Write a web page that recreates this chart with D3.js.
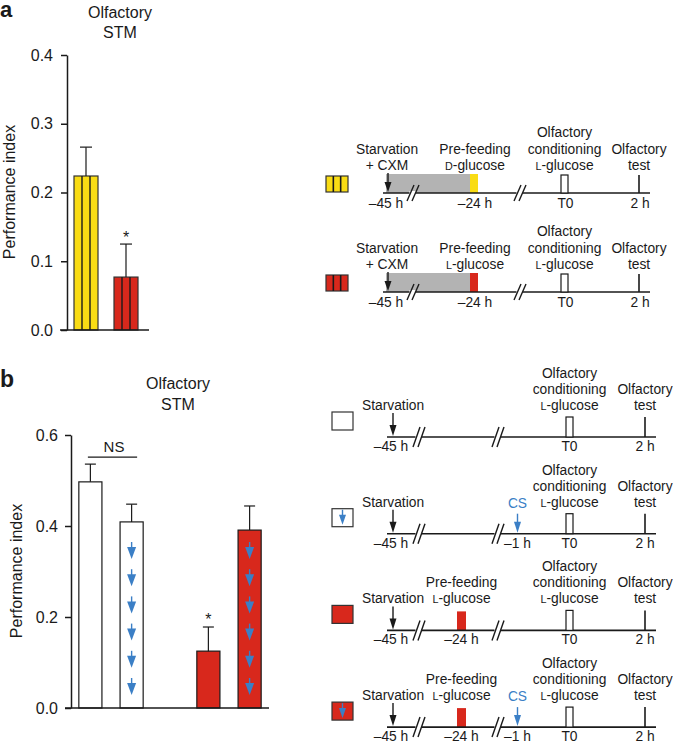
<!DOCTYPE html>
<html lang="en">
<head>
<meta charset="UTF-8">
<script src="https://d3js.org/d3.v7.min.js"></script>
<title>Olfactory STM</title>
<style>
  body { margin: 0; background: #fff; }
  svg text { font-family: "Liberation Sans", Arial, Helvetica, sans-serif; fill: #1a1a1a; }
</style>
</head>
<body>
<svg id="fig" width="673" height="743"></svg>
<script>
// ---------- data ----------
// panel a
const aGroups = ["D-glucose", "L-glucose"];
const aMeans = [0.224, 0.077];
const aErrTop = [0.266, 0.125];
const aSig = [false, true];
const aTicks = [0, 0.1, 0.2, 0.3, 0.4];

// panel b (groups x conditions)
const bGroups = ["noPrefeed", "prefeed"];
const bConds = ["noCS", "CS"];
const bMeans = [0.497, 0.409, 0.125, 0.391];
const bErrTop = [0.536, 0.448, 0.178, 0.444];
const bSig = [false, false, true, false];
const bTicks = [0, 0.2, 0.4, 0.6];

// timelines
const aTimes = [-45, -24, 0, 2];
const aTimeLabels = ["–45 h", "–24 h", "T0", "2 h"];
const aProtocols = ["D", "L"];
const bTimes = [-45, -24, -1, 0, 2];
const bTimeLabels = ["–45 h", "–24 h", "–1 h", "T0", "2 h"];
const bPrefeed = [false, false, true, true];
const bCS = [false, true, false, true];

// ---------- style ----------
const YEL = "#f9dc14", RED = "#d8281c", BLUE = "#3b7fc6", GREY = "#b3b3b3", INK = "#1a1a1a";

const svg = d3.select("#fig");

function arrow(g, x, yTop, yTip, color, headLen, headW) {
    g.append("line").attr("x1", x).attr("x2", x).attr("y1", yTop).attr("y2", yTip - headLen + 1)
        .attr("stroke", color).attr("stroke-width", 1.4);
    g.append("path")
        .attr("d", `M${x - headW / 2},${yTip - headLen}L${x + headW / 2},${yTip - headLen}L${x},${yTip}Z`)
        .attr("fill", color);
}

function brk(g, x, B, h) {
    // white gap + two slanted strokes
    g.append("path")
        .attr("d", `M${x - 2.5 - 1},${B - 2}L${x + 2.5 + 1},${B - 2}L${x + 2.5 - 1},${B + 2}L${x - 2.5 - 1},${B + 2}Z`)
        .attr("fill", "#fff");
    [-2.5, 2.5].forEach(o => {
        g.append("line")
            .attr("x1", x + o - 3.5).attr("y1", B + h)
            .attr("x2", x + o + 3.5).attr("y2", B - h)
            .attr("stroke", INK).attr("stroke-width", 1.4);
    });
}

function label(g, x, y, txt, opts = {}) {
    const t = g.append("text").attr("x", x).attr("y", y)
        .attr("text-anchor", opts.anchor || "middle")
        .attr("font-size", opts.size || 13.8);
    if (opts.color) t.style("fill", opts.color);
    if (opts.sc) {
        t.append("tspan").attr("font-size", (opts.size || 13.8) * 0.78).text(opts.sc);
        t.append("tspan").text(txt);
    } else t.text(txt);
    return t;
}

// ---------- panel letters ----------
svg.append("text").attr("x", 0).attr("y", 16.5).attr("font-size", 22).attr("font-weight", "bold").text("a");
svg.append("text").attr("x", 0).attr("y", 387).attr("font-size", 23).attr("font-weight", "bold").text("b");

// ---------- panel a bar chart ----------
{
    const g = svg.append("g");
    const y = d3.scaleLinear().domain([0, 0.4]).range([330, 55]);
    const x = d3.scaleBand().domain(aGroups).range([67, 145]).paddingInner(0.4).paddingOuter(0.175);
    const cols = [YEL, RED];

    label(g, 120, 18, "Olfactory", { size: 16 });
    label(g, 120, 38, "STM", { size: 16 });

    g.append("text").attr("transform", `translate(15,192) rotate(-90)`)
        .attr("text-anchor", "middle").attr("font-size", 16).text("Performance index");

    aGroups.forEach((k, i) => {
        const x0 = x(k), w = x.bandwidth(), top = y(aMeans[i]);
        g.append("rect").attr("x", x0).attr("y", top).attr("width", w).attr("height", y(0) - top)
            .attr("fill", cols[i]).attr("stroke", "#333").attr("stroke-width", 1.2);
        [1 / 3, 2 / 3].forEach(f => g.append("line")
            .attr("x1", x0 + w * f).attr("x2", x0 + w * f).attr("y1", top).attr("y2", y(0))
            .attr("stroke", INK).attr("stroke-width", 1.4));
        const cx = x0 + w / 2;
        g.append("line").attr("x1", cx).attr("x2", cx).attr("y1", top).attr("y2", y(aErrTop[i]))
            .attr("stroke", INK).attr("stroke-width", 1.2);
        g.append("line").attr("x1", cx - 6).attr("x2", cx + 6).attr("y1", y(aErrTop[i])).attr("y2", y(aErrTop[i]))
            .attr("stroke", INK).attr("stroke-width", 1.2);
        if (aSig[i]) label(g, cx, y(aErrTop[i]) - 1.5, "*", { size: 16 });
    });

    const ax = g.append("g").attr("transform", "translate(67,0)")
        .call(d3.axisLeft(y).tickValues(aTicks).tickFormat(d3.format(".1f")).tickSize(6).tickSizeOuter(0).tickPadding(8));
    ax.attr("font-size", 16);
    ax.selectAll("path,line").attr("stroke", INK).attr("stroke-width", 1.5);
    g.append("line").attr("x1", 60).attr("x2", 149).attr("y1", y(0)).attr("y2", y(0))
        .attr("stroke", INK).attr("stroke-width", 1.5);
}

// ---------- panel b bar chart ----------
{
    const g = svg.append("g");
    const y = d3.scaleLinear().domain([0, 0.6]).range([708, 435]);
    const xo = d3.scaleBand().domain(bGroups).range([71, 307]);
    const xi = d3.scaleBand().domain(bConds).range([0, 80]).paddingInner(0.44).paddingOuter(0.19);
    const w = xi.bandwidth();

    label(g, 178, 389, "Olfactory", { size: 16 });
    label(g, 178, 410, "STM", { size: 16 });

    g.append("text").attr("transform", `translate(21.5,571) rotate(-90)`)
        .attr("text-anchor", "middle").attr("font-size", 16).text("Performance index");

    const centers = [];
    bGroups.forEach((gk, gi) => bConds.forEach((ck, ci) => {
        const i = gi * 2 + ci;
        const x0 = xo(gk) + xi(ck), top = y(bMeans[i]);
        const cx = x0 + w / 2;
        centers.push(cx);
        g.append("rect").attr("x", x0).attr("y", top).attr("width", w).attr("height", y(0) - top)
            .attr("fill", gi ? RED : "#fff").attr("stroke", INK).attr("stroke-width", 1.2);
        if (ck === "CS") {
            const n = Math.floor((y(0) - top - 10) / 27.2);
            for (let k = 0; k < n; k++) {
                const tip = y(0) - 13 - k * 27.2;
                arrow(g, cx, tip - 17, tip, BLUE, 12, 9);
            }
        }
        g.append("line").attr("x1", cx).attr("x2", cx).attr("y1", top).attr("y2", y(bErrTop[i]))
            .attr("stroke", INK).attr("stroke-width", 1.2);
        g.append("line").attr("x1", cx - 5.5).attr("x2", cx + 5.5).attr("y1", y(bErrTop[i])).attr("y2", y(bErrTop[i]))
            .attr("stroke", INK).attr("stroke-width", 1.2);
        if (bSig[i]) label(g, cx, y(bErrTop[i]) - 2.5, "*", { size: 16 });
    }));

    // NS bracket over the first two bars
    const nsY = y(bErrTop[0]) - 7;
    g.append("line").attr("x1", centers[0] - 2.5).attr("x2", centers[1] + 5.5).attr("y1", nsY).attr("y2", nsY)
        .attr("stroke", INK).attr("stroke-width", 1.2);
    label(g, (centers[0] + centers[1]) / 2 + 3, nsY - 5, "NS", { size: 15 });

    const ax = g.append("g").attr("transform", "translate(71,0)")
        .call(d3.axisLeft(y).tickValues(bTicks).tickFormat(d3.format(".1f")).tickSize(6).tickSizeOuter(0).tickPadding(7));
    ax.attr("font-size", 16);
    ax.selectAll("path,line").attr("stroke", INK).attr("stroke-width", 1.5);
    g.append("line").attr("x1", 65).attr("x2", 269).attr("y1", y(0)).attr("y2", y(0))
        .attr("stroke", INK).attr("stroke-width", 1.5);
}

// ---------- panel a timelines ----------
{
    const t = d3.scaleLinear().domain(aTimes).range([387, 474, 564.5, 639]);
    const cols = { D: YEL, L: RED };
    aProtocols.forEach((s, i) => {
        const g = svg.append("g");
        const B = 193 + i * 99;
        // legend swatch
        g.append("rect").attr("x", 326).attr("y", B - 17).attr("width", 22).attr("height", 16)
            .attr("fill", cols[s]).attr("stroke", "#333").attr("stroke-width", 1.2);
        [1 / 3, 2 / 3].forEach(f => g.append("line")
            .attr("x1", 326 + 22 * f).attr("x2", 326 + 22 * f).attr("y1", B - 17).attr("y2", B - 1)
            .attr("stroke", INK).attr("stroke-width", 1.6));

        g.append("rect").attr("x", t(-45) - 1).attr("y", B - 19).attr("width", t(-24) - 4 - t(-45) + 1).attr("height", 19)
            .attr("fill", GREY);
        g.append("rect").attr("x", t(-24) - 4).attr("y", B - 19).attr("width", 8).attr("height", 19)
            .attr("fill", cols[s]);
        g.append("line").attr("x1", 383).attr("x2", 650).attr("y1", B).attr("y2", B)
            .attr("stroke", INK).attr("stroke-width", 1.6);
        brk(g, 413, B, 8);
        brk(g, 520, B, 8);
        arrow(g, t(-45) + 1, B - 20, B - 1, INK, 10, 7);
        g.append("rect").attr("x", t(0) - 3.5).attr("y", B - 18).attr("width", 7).attr("height", 18)
            .attr("fill", "#fff").attr("stroke", INK).attr("stroke-width", 1.2);
        g.append("line").attr("x1", t(2)).attr("x2", t(2)).attr("y1", B - 18).attr("y2", B)
            .attr("stroke", INK).attr("stroke-width", 1.6);

        aTimes.forEach((tm, j) => label(g, t(tm) + (j === 0 ? -1 : 1), B + 15, aTimeLabels[j]));

        label(g, t(-45), B - 39, "Starvation");
        label(g, t(-45), B - 23, "+ CXM");
        label(g, t(-24) + 1, B - 39, "Pre-feeding");
        label(g, t(-24) + 1, B - 23, "-glucose", { sc: s });
        label(g, t(0), B - 56, "Olfactory");
        label(g, t(0), B - 39, "conditioning");
        label(g, t(0), B - 23, "-glucose", { sc: "L" });
        label(g, t(2), B - 39, "Olfactory");
        label(g, t(2), B - 23, "test");
    });
}

// ---------- panel b timelines ----------
{
    const t = d3.scaleLinear().domain(bTimes).range([393, 461.5, 517.5, 569.5, 645]);
    bPrefeed.forEach((pf, i) => {
        const cs = bCS[i];
        const g = svg.append("g");
        const B = 437 + i * 96.7;

        g.append("rect").attr("x", 332).attr("y", B - 25).attr("width", 21).attr("height", 18)
            .attr("fill", pf ? RED : "#fff").attr("stroke", "#333").attr("stroke-width", 1.2);
        if (cs) arrow(g, 342.5, B - 24, B - 9, BLUE, 10, 7);

        if (pf) g.append("rect").attr("x", t(-24) - 4.5).attr("y", B - 19).attr("width", 9).attr("height", 19)
            .attr("fill", RED);
        g.append("line").attr("x1", 387).attr("x2", 656).attr("y1", B).attr("y2", B)
            .attr("stroke", INK).attr("stroke-width", 1.6);
        brk(g, 419, B, 10);
        brk(g, 498, B, 10);
        arrow(g, t(-45), B - 24, B - 1, INK, 11, 7);
        if (cs) {
            arrow(g, t(-1), B - 20, B - 1, BLUE, 11, 7);
            label(g, t(-1), B - 26, "CS", { color: BLUE });
        }
        g.append("rect").attr("x", t(0) - 3.5).attr("y", B - 20).attr("width", 7).attr("height", 20)
            .attr("fill", "#fff").attr("stroke", INK).attr("stroke-width", 1.2);
        g.append("line").attr("x1", t(2)).attr("x2", t(2)).attr("y1", B - 20).attr("y2", B)
            .attr("stroke", INK).attr("stroke-width", 1.6);

        bTimes.forEach((tm, j) => {
            if (tm === -24 && !pf) return;
            if (tm === -1 && !cs) return;
            label(g, t(tm) + (j === 0 ? -2 : 0), B + 14, bTimeLabels[j]);
        });

        label(g, t(-45), B - 27, "Starvation");
        if (pf) {
            label(g, t(-24), B - 43, "Pre-feeding");
            label(g, t(-24), B - 27, "-glucose", { sc: "L" });
        }
        label(g, t(0), B - 59, "Olfactory");
        label(g, t(0), B - 43, "conditioning");
        label(g, t(0), B - 27, "-glucose", { sc: "L" });
        label(g, t(2), B - 43, "Olfactory");
        label(g, t(2), B - 27, "test");
    });
}
</script>
</body>
</html>
